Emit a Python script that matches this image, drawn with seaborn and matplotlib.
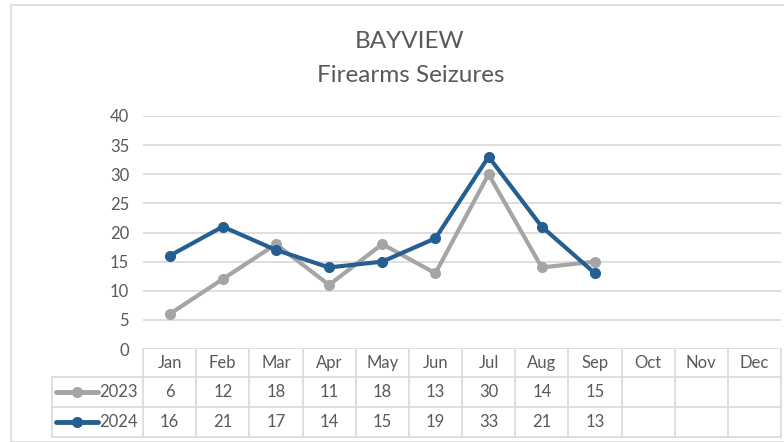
import pandas as pd
import matplotlib
matplotlib.use("Agg")
import matplotlib.pyplot as plt
import matplotlib.transforms as mtrans
from matplotlib.patches import Rectangle
from matplotlib.lines import Line2D
import seaborn as sns

# datos del grafico
meses = ["Jan", "Feb", "Mar", "Apr", "May", "Jun", "Jul", "Aug", "Sep", "Oct", "Nov", "Dec"]
anios = ["2023", "2024"]
valores_2023 = [6, 12, 18, 11, 18, 13, 30, 14, 15]
valores_2024 = [16, 21, 17, 14, 15, 19, 33, 21, 13]
ticks_y = [0, 5, 10, 15, 20, 25, 30, 35, 40]

colores = {"2023": "#A5A5A5", "2024": "#255E91"}
gris_texto = "#595959"
gris_linea = "#D9D9D9"

filas = []
for anio, vals in zip(anios, [valores_2023, valores_2024]):
    for i, v in enumerate(vals):
        filas.append({"anio": anio, "mes": i, "valor": v})
datos = pd.DataFrame(filas)

sns.set_theme(style="white")
plt.rcParams["font.family"] = ["Lato", "DejaVu Sans"]

W, H = 784, 442
fig = plt.figure(figsize=(W / 100, H / 100), dpi=100)

# borde del area del grafico
fig.patches.append(Rectangle((11 / W, 0), 1, 1 - 5 / H, transform=fig.transFigure,
                             fill=False, edgecolor=gris_linea, linewidth=1.2))

izq, der, arriba, abajo = 143, 781, 116, 349
ax = fig.add_axes([izq / W, 1 - abajo / H, (der - izq) / W, (abajo - arriba) / H])

sns.lineplot(data=datos, x="mes", y="valor", hue="anio", palette=colores,
             marker="o", markersize=8, markeredgewidth=0, linewidth=3,
             legend=False, ax=ax)

ax.set_xlim(-0.5, len(meses) - 0.5)
ax.set_ylim(0, 40)
ax.set_yticks(ticks_y)
ax.set_xticks([])
ax.set_xlabel("")
ax.set_ylabel("")
ax.tick_params(axis="y", length=0, pad=10, labelsize=12, labelcolor=gris_texto)
for s in ax.spines.values():
    s.set_visible(False)
ax.grid(axis="y", color=gris_linea, linewidth=1.2)
ax.set_axisbelow(True)

# titulo
fig.text(410 / W, 1 - 41 / H, "BAYVIEW", ha="center", va="center", fontsize=17.5, color=gris_texto)
fig.text(411 / W, 1 - 75 / H, "Firearms Seizures", ha="center", va="center", fontsize=17.5, color=gris_texto)

# tabla de datos debajo del eje
tr = mtrans.blended_transform_factory(ax.transData, ax.transAxes)
alto = abajo - arriba

def fy(px):
    return (abajo - px) / alto

def dx(px):
    return (px - izq) / ((der - izq) / len(meses)) - 0.5

x_leyenda = dx(52)
y_filas = [fy(349), fy(377), fy(407), fy(437)]
kw = dict(transform=tr, color=gris_linea, linewidth=1.2, clip_on=False)

for y in y_filas[1:]:
    ax.add_line(Line2D([x_leyenda, len(meses) - 0.5], [y, y], **kw))
for i in range(len(meses) + 1):
    ax.add_line(Line2D([i - 0.5, i - 0.5], [y_filas[0], y_filas[3]], **kw))
ax.add_line(Line2D([x_leyenda, x_leyenda], [y_filas[1], y_filas[3]], **kw))

tk = dict(transform=tr, ha="center", va="center", fontsize=12, color=gris_texto, clip_on=False)
for i, m in enumerate(meses):
    ax.text(i, (y_filas[0] + y_filas[1]) / 2, m, **tk)

for r, (anio, vals) in enumerate(zip(anios, [valores_2023, valores_2024])):
    yc = (y_filas[r + 1] + y_filas[r + 2]) / 2
    for i, v in enumerate(vals):
        ax.text(i, yc, str(v), **tk)
    ax.add_line(Line2D([dx(56), dx(98)], [yc, yc], transform=tr, color=colores[anio],
                       linewidth=3.5, clip_on=False))
    ax.add_line(Line2D([dx(77)], [yc], transform=tr, color=colores[anio], marker="o",
                       markersize=8, markeredgewidth=0, linestyle="none", clip_on=False))
    ax.text(dx(138), yc, anio, transform=tr, ha="right", va="center", fontsize=12,
            color=gris_texto, clip_on=False)

fig.savefig("out.png", dpi=100)
